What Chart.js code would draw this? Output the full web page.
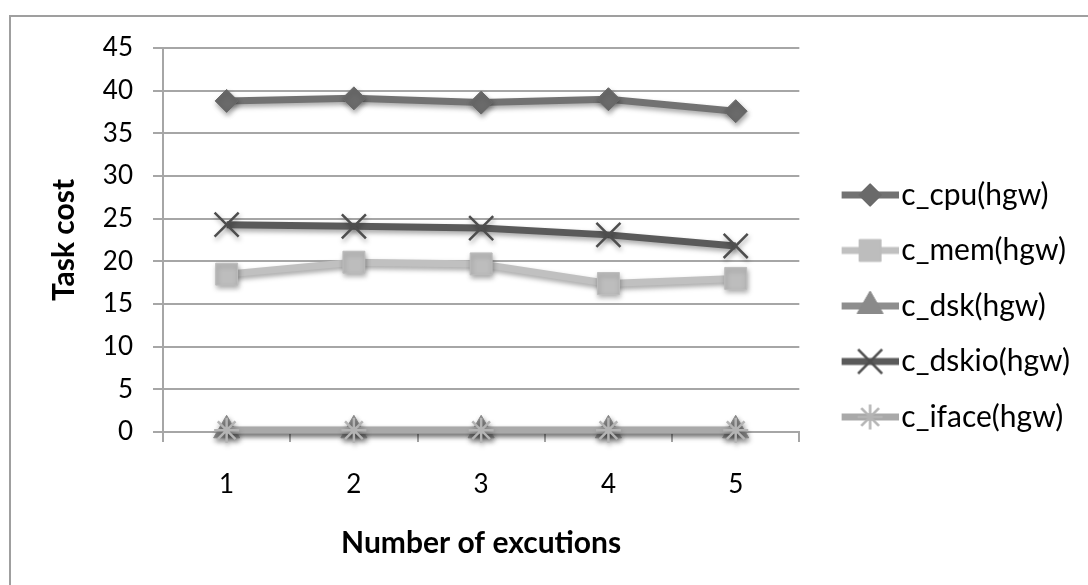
<!DOCTYPE html>
<html>
<head>
<meta charset="utf-8">
<script src="https://cdn.jsdelivr.net/npm/chart.js@4.4.1/dist/chart.umd.min.js"></script>
<style>
  html, body { margin: 0; padding: 0; background: #fff; }
  #wrap { width: 1088px; height: 585px; position: relative; }
</style>
</head>
<body>
<div id="wrap"><canvas id="c" width="1088" height="585"></canvas></div>
<script>
// Execution runs along the x axis
const runs = ['1', '2', '3', '4', '5'];

// Task cost per run for each resource
const cpuCost   = [38.8, 39.1, 38.6, 39.0, 37.6];
const memCost   = [18.5, 19.9, 19.7, 17.4, 18.0];
const dskCost   = [0.2, 0.2, 0.2, 0.2, 0.2];
const dskioCost = [24.3, 24.1, 23.9, 23.1, 21.8];
const ifaceCost = [0.2, 0.2, 0.2, 0.2, 0.2];

const seriesNames = ['c_cpu(hgw)', 'c_mem(hgw)', 'c_dsk(hgw)', 'c_dskio(hgw)', 'c_iface(hgw)'];
const yTickValues = [0, 5, 10, 15, 20, 25, 30, 35, 40, 45];

const FONT = 'Lato';
const TICK_FONT = 26;
const TITLE_FONT = 30;
const LEG_FONT = 30;
const GRID = '#a6a6a6';

// Line + marker look for each series
const looks = [
  { line: '#727272', marker: '#6a6a6a', style: 'rectRot',  radius: 11.5, border: 1,   markerStroke: '#6a6a6a' },
  { line: '#c0c0c0', marker: '#bdbdbd', style: 'rect',     radius: 15.5, border: 1,   markerStroke: '#bdbdbd' },
  { line: '#8e8e8e', marker: '#8a8a8a', style: 'triangle', radius: 15,   border: 1,   markerStroke: '#8a8a8a' },
  { line: '#5a5a5a', marker: '#4e4e4e', style: 'crossRot', radius: 17,   border: 2.5, markerStroke: '#4e4e4e' },
  { line: '#a9a9a9', marker: '#b4b4b4', style: 'star',     radius: 12.5, border: 2.5, markerStroke: '#b4b4b4' }
];
const seriesData = [cpuCost, memCost, dskCost, dskioCost, ifaceCost];

// Legend geometry
const LEG_PAD = 25.5;
const LEG_BOX = 61.5;
const LEG_LINE = 57;

function drawMarker(ctx, look, x, y) {
  ctx.fillStyle = look.marker;
  ctx.strokeStyle = look.markerStroke;
  ctx.lineWidth = look.border;
  Chart.helpers.drawPoint(ctx, { pointStyle: look.style, radius: look.radius, rotation: 0, borderWidth: look.border }, x, y);
}

// Legend symbols: a short line with the series marker in its middle,
// ending just before the label text
function makeIcon(look) {
  const w = Math.round(LEG_BOX + LEG_FONT - 6);
  const h = 44;
  const cv = document.createElement('canvas');
  cv.width = w; cv.height = h;
  const ctx = cv.getContext('2d');
  const x0 = w - LEG_LINE;
  ctx.strokeStyle = look.line;
  ctx.lineWidth = 7;
  ctx.beginPath();
  ctx.moveTo(x0, h / 2);
  ctx.lineTo(w, h / 2);
  ctx.stroke();
  drawMarker(ctx, look, x0 + LEG_LINE / 2, h / 2);
  return cv;
}

const icons = looks.map(makeIcon);

const datasets = seriesNames.map((name, i) => ({
  label: name,
  data: seriesData[i],
  borderColor: looks[i].line,
  backgroundColor: looks[i].marker,
  borderWidth: 7,
  pointStyle: looks[i].style,
  pointRadius: looks[i].radius,
  pointHoverRadius: looks[i].radius,
  pointBorderWidth: looks[i].border,
  pointBackgroundColor: looks[i].marker,
  pointBorderColor: looks[i].markerStroke,
  tension: 0,
  fill: false,
  clip: false,
  order: seriesNames.length - i
}));

// Soft drop shadow under lines and markers
const shadowPlugin = {
  id: 'dropShadow',
  beforeDatasetsDraw(chart) {
    const ctx = chart.ctx;
    ctx.save();
    ctx.shadowColor = 'rgba(0,0,0,0.35)';
    ctx.shadowBlur = 5;
    ctx.shadowOffsetX = 1;
    ctx.shadowOffsetY = 3;
  },
  afterDatasetsDraw(chart) {
    chart.ctx.restore();
  }
};

// Frame line along the top and left of the chart
const framePlugin = {
  id: 'frame',
  beforeDraw(chart) {
    const ctx = chart.ctx;
    ctx.save();
    ctx.fillStyle = '#fff';
    ctx.fillRect(0, 0, chart.width, chart.height);
    ctx.strokeStyle = '#9f9f9f';
    ctx.lineWidth = 2;
    ctx.beginPath();
    ctx.moveTo(10, chart.height);
    ctx.lineTo(10, 16);
    ctx.lineTo(chart.width, 16);
    ctx.stroke();
    ctx.restore();
  }
};

const PLOT_LEFT = 163;
const PLOT_BOTTOM = 432;
const PAD_BOTTOM = 21;

new Chart(document.getElementById('c'), {
  type: 'line',
  data: { labels: runs, datasets },
  options: {
    responsive: false,
    animation: false,
    devicePixelRatio: 1,
    layout: { padding: { top: 48, bottom: PAD_BOTTOM, left: 0, right: 8 } },
    scales: {
      x: {
        type: 'category',
        offset: true,
        grid: { offset: true, drawOnChartArea: false, drawTicks: true, tickLength: 10, color: GRID, lineWidth: 2 },
        border: { display: true, color: GRID, width: 2 },
        ticks: { color: '#000', font: { family: FONT, size: TICK_FONT }, padding: 27, maxRotation: 0 },
        title: { display: true, text: 'Number of excutions', color: '#000',
                 font: { family: FONT, size: TITLE_FONT, weight: 'bold' }, padding: { top: 0, bottom: 3 } },
        afterFit(scale) { scale.height = 585 - PAD_BOTTOM - PLOT_BOTTOM; }
      },
      y: {
        min: 0, max: 45,
        afterBuildTicks(scale) { scale.ticks = yTickValues.map(v => ({ value: v })); },
        grid: { color: GRID, lineWidth: 2, tickLength: 10, drawTicks: true },
        border: { display: true, color: GRID, width: 2 },
        ticks: { color: '#000', font: { family: FONT, size: TICK_FONT }, padding: 20 },
        title: { display: true, text: 'Task cost', color: '#000',
                 font: { family: FONT, size: TITLE_FONT, weight: 'bold' }, padding: { top: 46, bottom: 0 } },
        afterFit(scale) { scale.width = PLOT_LEFT; }
      }
    },
    plugins: {
      tooltip: { enabled: false },
      legend: {
        position: 'right',
        align: 'center',
        maxWidth: 290,
        labels: {
          usePointStyle: true,
          pointStyleWidth: LEG_BOX,
          padding: LEG_PAD,
          color: '#000',
          font: { family: FONT, size: LEG_FONT },
          sort: (a, b) => a.datasetIndex - b.datasetIndex,
          generateLabels(chart) {
            const items = Chart.defaults.plugins.legend.labels.generateLabels(chart);
            items.forEach(it => { it.pointStyle = icons[it.datasetIndex]; });
            return items;
          }
        }
      }
    }
  },
  plugins: [framePlugin, shadowPlugin]
});
</script>
</body>
</html>
